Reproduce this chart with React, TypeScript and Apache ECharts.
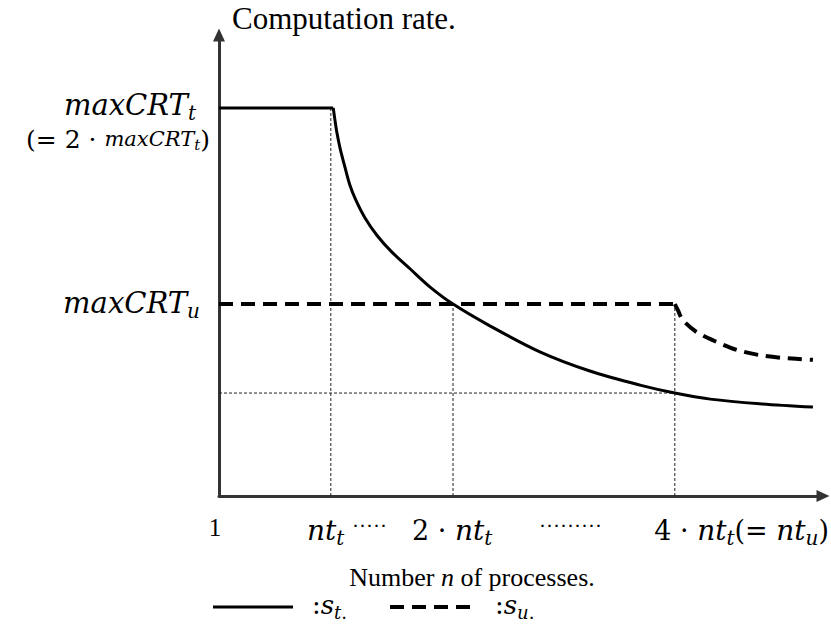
import React, { useEffect, useRef } from "react";
import * as echarts from "echarts";

// Abstract axis ranges (x: process count scale, y: computation rate scale)
const xMax = 98.85;
const yMax = 98.5;

// s_t : flat part then decreasing curve
const stFlat = [[0, 82.9], [18.7, 82.9]];
const stCurve = [
  [18.7, 82.9], [19.0, 80.1], [19.3, 77.6], [19.8, 74.4], [20.6, 70.3],
  [21.4, 66.5], [22.4, 63.2], [23.9, 59.4], [25.9, 55.6], [28.3, 52.1],
  [31.3, 48.5], [34.5, 44.7], [38.3, 41.0], [44.4, 36.3], [52.5, 30.8],
  [60.7, 26.7], [68.9, 23.7], [74.6, 22.0], [80.4, 20.7], [88.5, 19.7],
  [97.2, 19.0],
];
// s_u : flat part then decreasing curve
const suFlat = [[0, 41.0], [74.6, 41.0]];
const suCurve = [
  [74.6, 41.0], [75.1, 39.7], [75.9, 37.6], [78.2, 35.0], [81.5, 32.9],
  [84.8, 31.2], [88.5, 30.1], [92.3, 29.5], [97.2, 29.1],
];
// dotted guides: vertical [x, topY], horizontal [xEnd, y]
const guideVertical = [[18.3, 82.9], [38.3, 41.0], [74.6, 41.0]];
const guideHorizontal = [[74.6, 22.0]];

// texts
const yAxisTitle = "Computation rate.";
const xAxisTitle = ["Number ", "n", " of processes."];
const yTickLabels = [
  "{mi|maxCRT}{sub|t}",
  "{up|(= 2 \u00b7 }{mi2|maxCRT}{sub2|t}{up|)}",
  "{mi|maxCRT}{sub|u}",
];
const xTickLabels = [
  "{n|1}",
  "{mi|nt}{sub|t}",
  "{dot|\u00b7\u00b7\u00b7\u00b7\u00b7}",
  "{up|2 \u00b7 }{mi|nt}{sub|t}",
  "{dot|\u00b7\u00b7\u00b7\u00b7\u00b7\u00b7\u00b7\u00b7\u00b7}",
  "{up|4 \u00b7 }{mi|nt}{sub|t}{up|(= }{mi|nt}{sub|u}{up|)}",
];
const legendLabels = ["{up|:}{mi|s}{sub|t}{subup|.}", "{up|:}{mi|s}{sub|u}{subup|.}"];

const MATH = '"DejaVu Serif"';
const SERIF = '"Liberation Serif"';

const rich: any = {
  mi: { fontFamily: MATH, fontStyle: "italic", fontSize: 28, lineHeight: 28, fill: "#000" },
  up: { fontFamily: MATH, fontSize: 27, lineHeight: 28, fill: "#000" },
  sub: { fontFamily: MATH, fontStyle: "italic", fontSize: 20, lineHeight: 12, fill: "#000", padding: [16, 0, 0, 0] },
  subup: { fontFamily: MATH, fontSize: 20, lineHeight: 12, fill: "#000", padding: [16, 0, 0, 0] },
  n: { fontFamily: SERIF, fontSize: 25, lineHeight: 28, fill: "#000" },
  dot: { fontFamily: SERIF, fontSize: 21, lineHeight: 28, fill: "#000" },
};
const richBig: any = {
  ...rich,
  mi: { fontFamily: MATH, fontStyle: "italic", fontSize: 29, lineHeight: 28, fill: "#000" },
};
const richSmall: any = {
  up: { fontFamily: MATH, fontSize: 25, lineHeight: 24, fill: "#000" },
  mi2: { fontFamily: MATH, fontStyle: "italic", fontSize: 21, lineHeight: 24, fill: "#000" },
  sub2: { fontFamily: MATH, fontStyle: "italic", fontSize: 15, lineHeight: 10, fill: "#000", padding: [12, 0, 0, 0] },
};
const richLegend: any = {
  up: { fontFamily: MATH, fontSize: 26, lineHeight: 24, fill: "#000" },
  mi: { fontFamily: MATH, fontStyle: "italic", fontSize: 26, lineHeight: 24, fill: "#000" },
  sub: { fontFamily: MATH, fontStyle: "italic", fontSize: 18, lineHeight: 10, fill: "#000", padding: [15, 0, 0, 0] },
  subup: { fontFamily: MATH, fontSize: 18, lineHeight: 10, fill: "#000", padding: [15, 0, 0, 0] },
};

function txt(text: string, x: number, y: number, align: string, r: any = rich) {
  return {
    type: "text",
    x,
    y,
    style: {
      text,
      rich: r,
      align,
      textAlign: align,
      verticalAlign: "middle",
      textVerticalAlign: "middle",
    },
  };
}

export default function App() {
  const ref = useRef<HTMLDivElement>(null);
  useEffect(() => {
    document.body.style.margin = "0";
    const chart = echarts.init(ref.current!, null, { renderer: "svg" });
    const guideStyle = { color: "#222", width: 1, type: [3, 2] };
    const guideSeries: any[] = [];
    guideVertical.forEach((g) => {
      guideSeries.push({
        type: "line", data: [[g[0], 0], [g[0], g[1]]], symbol: "none",
        lineStyle: guideStyle, z: 1, silent: true,
      });
    });
    guideHorizontal.forEach((g) => {
      guideSeries.push({
        type: "line", data: [[0, g[1]], [g[0], g[1]]], symbol: "none",
        lineStyle: guideStyle, z: 1, silent: true,
      });
    });
    const solid = { color: "#000", width: 3 };
    const dashed = { color: "#000", width: 4, type: [14, 8] };
    const option: any = {
      animation: false,
      grid: { left: 219, right: 8, top: 35, bottom: 128 },
      xAxis: {
        type: "value", min: 0, max: xMax,
        axisLine: { show: true, symbol: ["none", "triangle"], symbolSize: [12, 13], lineStyle: { color: "#333", width: 3 } },
        axisTick: { show: false }, axisLabel: { show: false }, splitLine: { show: false },
      },
      yAxis: {
        type: "value", min: 0, max: yMax,
        axisLine: { show: true, symbol: ["none", "triangle"], symbolSize: [12, 13], lineStyle: { color: "#333", width: 3 } },
        axisTick: { show: false }, axisLabel: { show: false }, splitLine: { show: false },
      },
      series: [
        ...guideSeries,
        { type: "line", name: "s_t", data: stFlat, symbol: "none", lineStyle: solid, z: 3 },
        { type: "line", name: "s_t", data: stCurve, symbol: "none", smooth: 0.3, lineStyle: solid, z: 3 },
        { type: "line", name: "s_u", data: suFlat, symbol: "none", lineStyle: dashed, z: 3 },
        { type: "line", name: "s_u", data: suCurve, symbol: "none", smooth: 0.3, lineStyle: dashed, z: 3 },
      ],
      graphic: [
        { type: "text", x: 232, y: 18, style: { text: yAxisTitle, fontFamily: SERIF, fontSize: 31, fill: "#000", align: "left", textAlign: "left", verticalAlign: "middle", textVerticalAlign: "middle" } },
        txt(yTickLabels[0], 196, 105, "right", richBig),
        txt(yTickLabels[1], 210, 139, "right", richSmall),
        txt(yTickLabels[2], 200, 303, "right", richBig),
        txt(xTickLabels[0], 215, 527, "center"),
        txt(xTickLabels[1], 307, 530, "left"),
        txt(xTickLabels[2], 352, 526, "left"),
        txt(xTickLabels[3], 412, 530, "left"),
        txt(xTickLabels[4], 539, 526, "left"),
        txt(xTickLabels[5], 829, 530, "right"),
        {
          type: "text", x: 472, y: 577,
          style: {
            text: `{a|${xAxisTitle[0]}}{b|${xAxisTitle[1]}}{a|${xAxisTitle[2]}}`,
            rich: {
              a: { fontFamily: SERIF, fontSize: 26, lineHeight: 20, fill: "#000" },
              b: { fontFamily: SERIF, fontSize: 26, lineHeight: 20, fontStyle: "italic", fill: "#000" },
            },
            align: "center", textAlign: "center", verticalAlign: "middle", textVerticalAlign: "middle",
          },
        },
        { type: "line", shape: { x1: 213, y1: 607, x2: 293, y2: 607 }, style: { stroke: "#000", lineWidth: 3 } },
        txt(legendLabels[0], 312, 605, "left", richLegend),
        { type: "line", shape: { x1: 390, y1: 607, x2: 475, y2: 607 }, style: { stroke: "#000", lineWidth: 4, lineDash: [14, 8] } },
        txt(legendLabels[1], 495, 605, "left", richLegend),
      ],
    };
    chart.setOption(option);
    return () => chart.dispose();
  }, []);
  return <div ref={ref} style={{ width: 831, height: 624 }} />;
}
